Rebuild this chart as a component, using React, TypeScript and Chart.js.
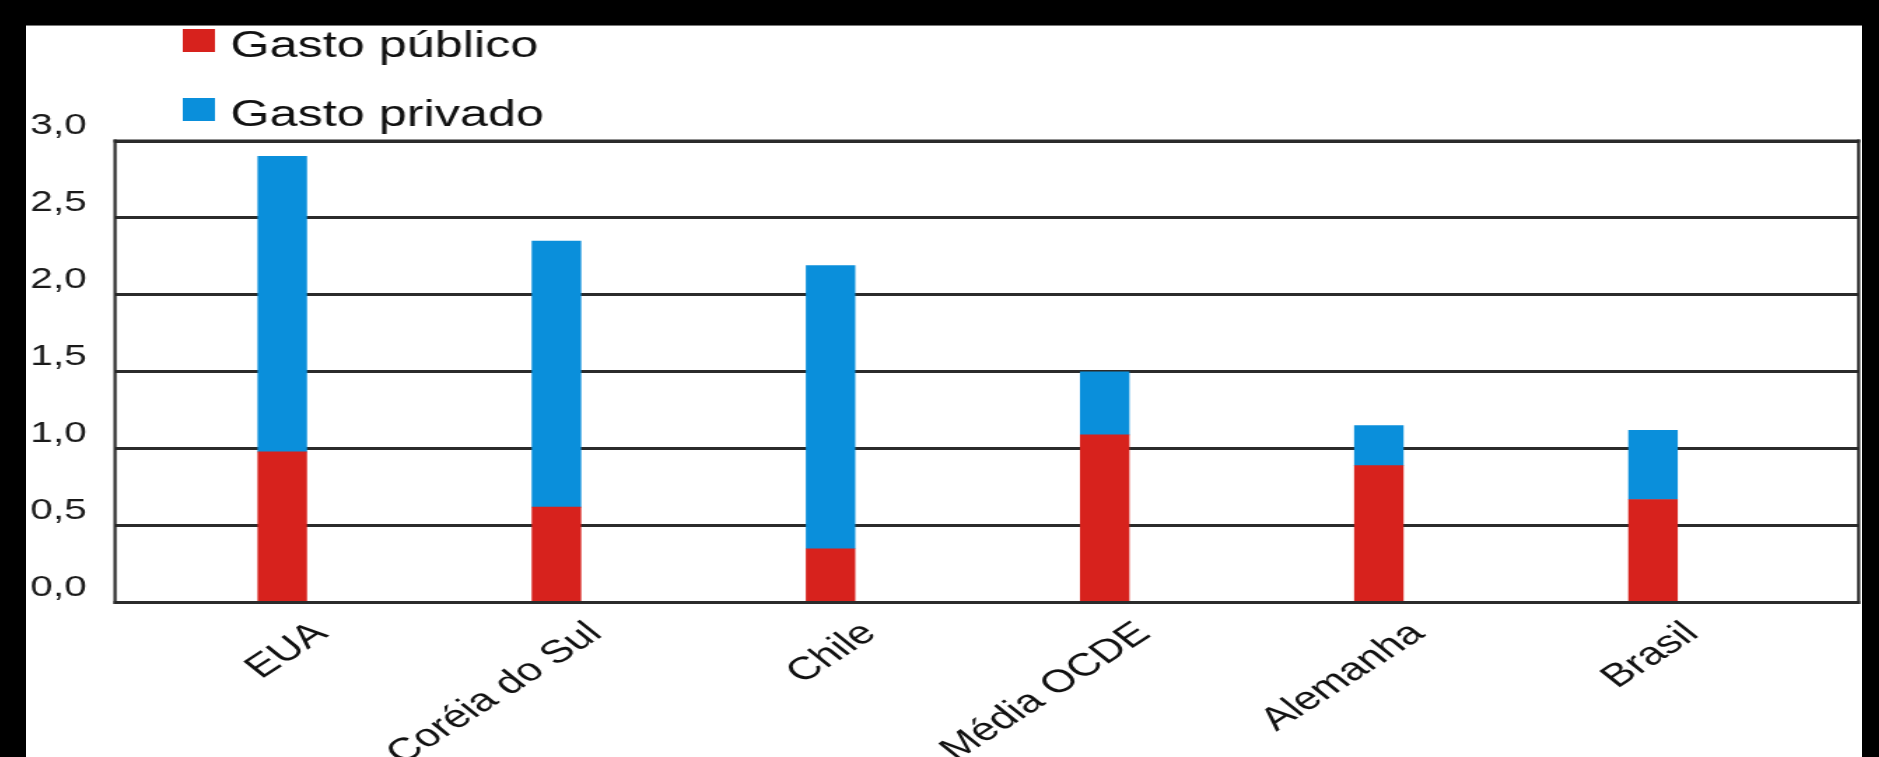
import React, { useEffect, useRef } from 'react';
import { Chart, registerables } from 'chart.js';

Chart.register(...registerables);

// ---- data ----
const categories = ['EUA', 'Coréia do Sul', 'Chile', 'Média OCDE', 'Alemanha', 'Brasil'];
const gastoPublico = [0.98, 0.62, 0.35, 1.09, 0.89, 0.67];
const gastoPrivado = [1.92, 1.73, 1.84, 0.41, 0.26, 0.45];
const seriesLabels = ['Gasto público', 'Gasto privado'];
const seriesColors = ['#d7221d', '#0a8fdb'];
const yMin = 0;
const yMax = 3;
const yStep = 0.5;

// ---- layout (the reference is horizontally stretched) ----
const SX = 1.4;
const W = 1311;
const H = 732;
const FONT = '"Liberation Sans", Arial, Helvetica, sans-serif';
const LINE = '#2b2b2b';

const framePlugin = {
  id: 'frame',
  afterDatasetsDraw(chart: any) {
    const { ctx, chartArea: a } = chart;
    ctx.save();
    ctx.strokeStyle = LINE;
    ctx.lineWidth = 3;
    ctx.beginPath();
    ctx.moveTo(a.left - 1, a.top);
    ctx.lineTo(a.right + 1, a.top);
    ctx.moveTo(a.left - 1, a.bottom);
    ctx.lineTo(a.right + 1, a.bottom);
    ctx.stroke();
    ctx.lineWidth = 2.2;
    ctx.beginPath();
    ctx.moveTo(a.left, a.top - 1.5);
    ctx.lineTo(a.left, a.bottom + 1.5);
    ctx.moveTo(a.right, a.top - 1.5);
    ctx.lineTo(a.right, a.bottom + 1.5);
    ctx.stroke();
    ctx.restore();
  },
};

const legendPlugin = {
  id: 'customLegend',
  afterDraw(chart: any) {
    const { ctx } = chart;
    ctx.save();
    ctx.font = `36px ${FONT}`;
    ctx.textBaseline = 'alphabetic';
    ctx.textAlign = 'left';
    chart.data.datasets.forEach((ds: any, i: number) => {
      const base = 32 + i * 69;
      ctx.fillStyle = ds.backgroundColor;
      ctx.fillRect(112, base - 28, 23, 23);
      ctx.fillStyle = '#111';
      ctx.fillText(ds.label, 146, base);
    });
    ctx.restore();
  },
};

export default function App() {
  const ref = useRef<HTMLCanvasElement | null>(null);

  useEffect(() => {
    if (!ref.current) return;
    const chart = new Chart(ref.current, {
      type: 'bar',
      data: {
        datasets: [
          {
            label: seriesLabels[0],
            data: categories.map((_, i) => ({ x: i, y: gastoPublico[i] })),
            backgroundColor: seriesColors[0],
            borderWidth: 0,
            barThickness: 34.7,
          },
          {
            label: seriesLabels[1],
            data: categories.map((_, i) => ({ x: i, y: gastoPrivado[i] })),
            backgroundColor: seriesColors[1],
            borderWidth: 0,
            barThickness: 34.7,
          },
        ],
      },
      options: {
        responsive: false,
        animation: false,
        devicePixelRatio: 1,
        layout: { padding: { left: 3, right: 1.7, top: 116, bottom: 0 } },
        plugins: {
          legend: { display: false },
          title: { display: false },
          tooltip: { enabled: false },
        },
        scales: {
          x: {
            type: 'linear',
            min: -0.61,
            max: 5.75,
            offset: false,
            stacked: true,
            grid: { display: false, drawTicks: false, offset: false },
            border: { display: false },
            ticks: {
              stepSize: 1,
              includeBounds: false,
              autoSkip: false,
              minRotation: 42,
              maxRotation: 42,
              padding: 12,
              labelOffset: 28,
              color: '#111',
              font: { family: FONT, size: 32 },
              callback: (v: any) => (Number.isInteger(v) && categories[v] !== undefined ? categories[v] : ''),
            },
            afterFit: (s: any) => {
              s.height = H - 577.6;
            },
          },
          y: {
            min: yMin,
            max: yMax,
            stacked: true,
            grid: { color: LINE, lineWidth: 3, drawTicks: false },
            border: { display: false },
            ticks: {
              stepSize: yStep,
              crossAlign: 'far',
              labelOffset: -15,
              padding: 0,
              color: '#1a1a1a',
              font: { family: FONT, size: 29 },
              callback: (v: any) => Number(v).toFixed(1).replace('.', ','),
            },
            afterFit: (s: any) => {
              s.width = 60.6;
            },
          },
        },
      },
      plugins: [framePlugin, legendPlugin],
    } as any);
    return () => chart.destroy();
  }, []);

  return (
    <div
      style={{
        position: 'fixed',
        left: 0,
        top: 0,
        width: 1879,
        height: 757,
        background: '#000',
        overflow: 'hidden',
      }}
    >
      <div
        style={{
          position: 'absolute',
          left: 26,
          top: 25,
          width: 1836,
          height: 732,
          background: '#fff',
          borderTop: '1px solid #777',
          boxSizing: 'border-box',
        }}
      />
      <canvas
        ref={ref}
        width={W}
        height={H}
        style={{
          position: 'absolute',
          left: 26,
          top: 25,
          width: `${W * SX}px`,
          height: `${H}px`,
        }}
      />
    </div>
  );
}
